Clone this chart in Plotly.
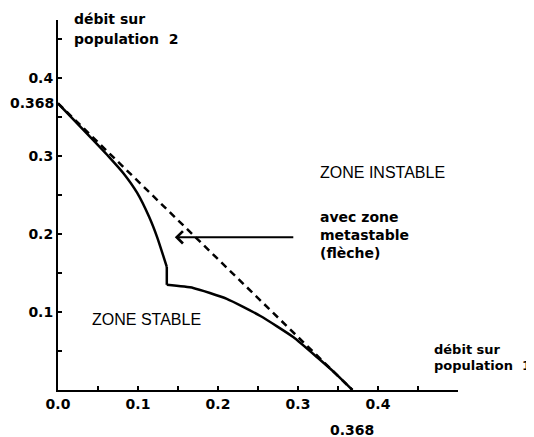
import plotly.graph_objects as go

# solid boundary: upper branch, short drop, lower branch
upper_x = [0.0, 0.041, 0.064, 0.082, 0.099, 0.114, 0.124, 0.132, 0.136]
upper_y = [0.368, 0.324, 0.299, 0.278, 0.253, 0.222, 0.196, 0.171, 0.158]
drop_x = [0.136, 0.136]
drop_y = [0.158, 0.135]
lower_x = [0.136, 0.169, 0.211, 0.253, 0.294, 0.325, 0.347, 0.368]
lower_y = [0.135, 0.131, 0.117, 0.095, 0.068, 0.041, 0.021, 0.0]

# dashed straight line x + y = 0.368
dash_x = [0.0, 0.368]
dash_y = [0.368, 0.0]

x_ticks = [0.0, 0.05, 0.1, 0.15, 0.2, 0.25, 0.3, 0.35, 0.4, 0.45]
x_text = ["0.0", "", "0.1", "", "0.2", "", "0.3", "", "0.4", ""]
y_ticks = [0.05, 0.1, 0.15, 0.2, 0.25, 0.3, 0.35, 0.4, 0.45]
y_text = ["", "0.1", "", "0.2", "", "0.3", "", "0.4", ""]

bold = dict(family="DejaVu Sans", size=14, weight="bold", color="black")
bold_s = dict(family="DejaVu Sans", size=13, weight="bold", color="black")
plain = dict(family="Liberation Sans", size=16, color="black")

fig = go.Figure()
fig.add_trace(go.Scatter(x=dash_x, y=dash_y, mode="lines",
                         line=dict(color="black", width=2.5, dash="7px,5px")))
fig.add_trace(go.Scatter(x=upper_x, y=upper_y, mode="lines",
                         line=dict(color="black", width=2.5, shape="spline", smoothing=0.5)))
fig.add_trace(go.Scatter(x=drop_x, y=drop_y, mode="lines",
                         line=dict(color="black", width=2.5)))
fig.add_trace(go.Scatter(x=lower_x, y=lower_y, mode="lines",
                         line=dict(color="black", width=2.5, shape="spline", smoothing=0.5)))

axis = dict(showline=True, linewidth=2, linecolor="black", ticks="inside",
            ticklen=4, tickwidth=1.5, tickcolor="black", showgrid=False,
            zeroline=False, tickfont=bold, automargin=False)
fig.update_xaxes(range=[0, 0.5], tickvals=x_ticks, ticktext=x_text, **axis)
fig.update_yaxes(range=[0, 0.475], tickvals=y_ticks, ticktext=y_text, **axis)

# arrow pointing into the metastable zone
fig.add_annotation(x=0.146, y=0.196, ax=0.296, ay=0.196, xref="x", yref="y",
                   axref="x", ayref="y", showarrow=True, arrowhead=4,
                   arrowsize=1.2, arrowwidth=2, arrowcolor="black", text="")

fig.add_annotation(text="0.368", x=0, y=0.368, xref="paper", yref="y",
                   xanchor="right", xshift=-2, showarrow=False, font=bold)
fig.add_annotation(text="0.368", x=0.368, y=0, xref="x", yref="paper",
                   yanchor="middle", yshift=-40, showarrow=False, font=bold)

fig.add_annotation(text="débit sur", x=0, y=1, xref="paper", yref="paper",
                   xanchor="left", yanchor="middle", xshift=14, yshift=1,
                   showarrow=False, font=bold)
fig.add_annotation(text="population  2", x=0, y=1, xref="paper", yref="paper",
                   xanchor="left", yanchor="middle", xshift=14, yshift=-19,
                   showarrow=False, font=bold)

fig.add_annotation(text="débit sur", x=0.4675, y=0.052, xanchor="left",
                   showarrow=False, font=bold_s)
fig.add_annotation(text="population  1", x=0.4675, y=0.031, xanchor="left",
                   showarrow=False, font=bold_s)

fig.add_annotation(text="ZONE INSTABLE", x=0.325, y=0.279, xanchor="left",
                   showarrow=False, font=plain)
fig.add_annotation(text="avec zone<br>metastable<br>(flèche)", x=0.325, y=0.199,
                   xanchor="left", align="left", showarrow=False, font=bold)
fig.add_annotation(text="ZONE STABLE", x=0.04, y=0.091, xanchor="left",
                   showarrow=False, font=plain)

# the page body keeps its default 8px margin, so the figure is 8px smaller
fig.update_layout(width=526, height=429, showlegend=False,
                  margin=dict(l=50, r=76, t=12, b=47),
                  plot_bgcolor="white", paper_bgcolor="white")

fig.write_html("out.html")
